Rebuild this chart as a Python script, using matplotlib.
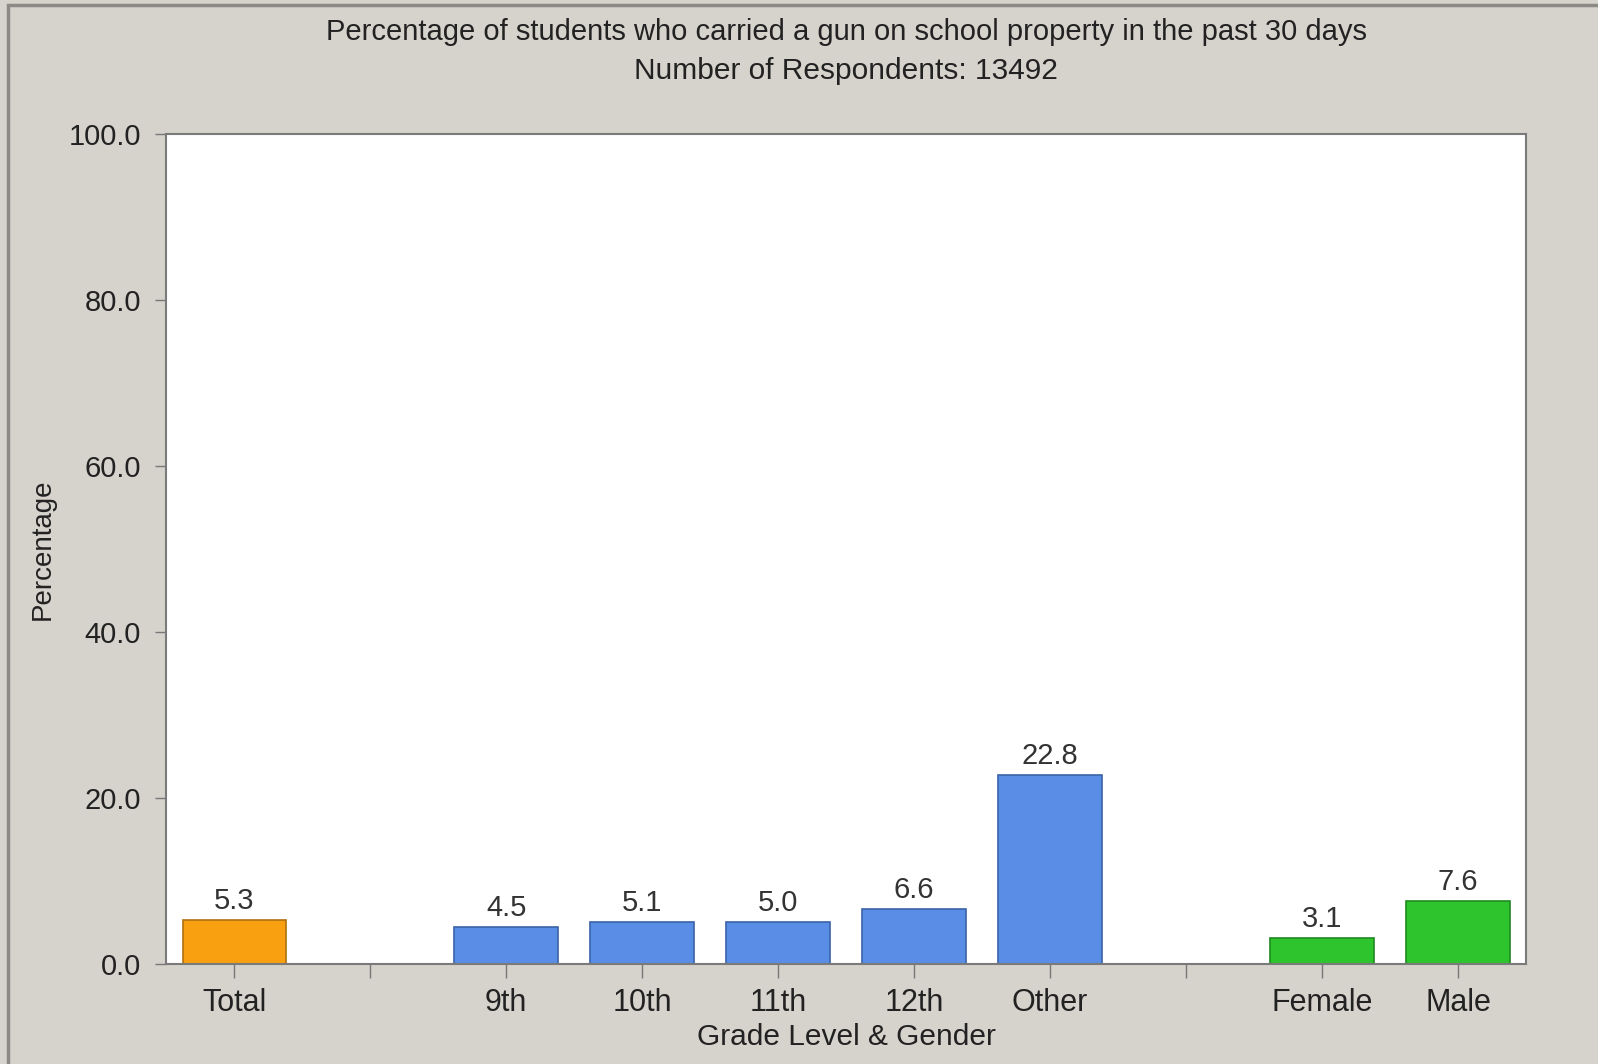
import matplotlib.pyplot as plt
from matplotlib.patches import Rectangle

# ---------------------------
# Data
# ---------------------------
categories = ["Total", "", "9th", "10th", "11th", "12th", "Other", "", "Female", "Male"]
values = [5.3, None, 4.5, 5.1, 5.0, 6.6, 22.8, None, 3.1, 7.6]
bar_colors = ["#F8A010", None, "#5A8DE6", "#5A8DE6", "#5A8DE6", "#5A8DE6", "#5A8DE6",
              None, "#2EC42E", "#2EC42E"]
edge_colors = ["#B07010", None, "#3A64A8", "#3A64A8", "#3A64A8", "#3A64A8", "#3A64A8",
               None, "#1F8A1F", "#1F8A1F"]
yticks = [0, 20, 40, 60, 80, 100]

title_line1 = "Percentage of students who carried a gun on school property in the past 30 days"
title_line2 = "Number of Respondents: 13492"

plt.rcParams['font.family'] = ['Liberation Sans', 'DejaVu Sans']

bg = "#D6D2CC"
fig = plt.figure(figsize=(15.98, 10.64), dpi=100, facecolor=bg)
ax = fig.add_axes([0.104, 0.094, 0.851, 0.7805])
ax.set_facecolor("white")

# outer frame lines (left and top)
fig.patches.append(Rectangle((0.005, -0.01), 1.2, 1.005, transform=fig.transFigure,
                             fill=False, edgecolor="#8C8A86", linewidth=2.5))

# ---------------------------
# Bars
# ---------------------------
for i, (v, c, ec) in enumerate(zip(values, bar_colors, edge_colors)):
    if v is None:
        continue
    ax.bar(i, v, width=0.76, color=c, edgecolor=ec, linewidth=1.2, zorder=2)
    ax.text(i, v + 0.6, f"{v:.1f}", ha="center", va="bottom",
            fontsize=21, color="#333333")

ax.set_xlim(-0.5, len(categories) - 0.5)
ax.set_ylim(0, 100)
ax.set_xticks(range(len(categories)))
ax.set_xticklabels(categories, fontsize=22, color="#222222")
ax.set_yticks(yticks)
ax.set_yticklabels([f"{t:.1f}" for t in yticks], fontsize=21, color="#222222")

ax.tick_params(axis="x", length=10, width=1, color="#777777", pad=7)
ax.tick_params(axis="y", length=8, width=1, color="#777777", pad=10)

for s in ax.spines.values():
    s.set_color("#7A7A7A")
    s.set_linewidth(1.5)

ax.set_xlabel("Grade Level & Gender", fontsize=21.5, color="#222222", labelpad=4)
ax.set_ylabel("Percentage", fontsize=20, color="#222222", labelpad=9)

fig.text(0.5295, 0.970, title_line1, ha="center", va="center", fontsize=21, color="#222222")
fig.text(0.5295, 0.933, title_line2, ha="center", va="center", fontsize=21.5, color="#222222")

plt.savefig("out.png", dpi=100, facecolor=bg)
